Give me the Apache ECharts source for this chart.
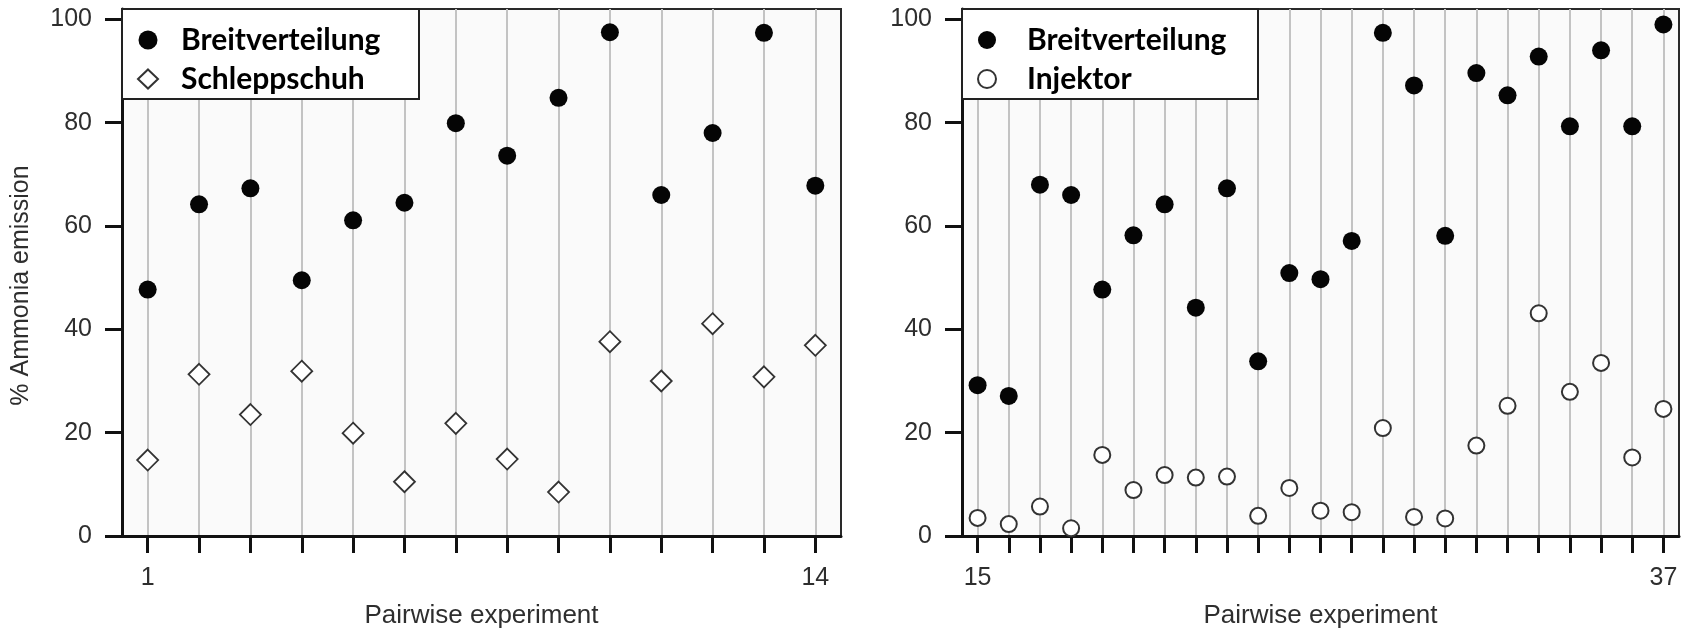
<!DOCTYPE html>
<html><head><meta charset="utf-8">
<script src="https://cdn.jsdelivr.net/npm/echarts@6/dist/echarts.min.js"></script>
<style>html,body{margin:0;padding:0;background:#fff}#c{width:1682px;height:634px}</style>
</head><body><div id="c"></div>
<script>
// ---- data ----
const leftExperiments = [1,2,3,4,5,6,7,8,9,10,11,12,13,14];
const leftBreitverteilung = [47.7, 64.2, 67.3, 49.5, 61.1, 64.5, 79.9, 73.6, 84.8, 97.5, 66.0, 78.0, 97.4, 67.8];
const leftSchleppschuh = [14.7, 31.3, 23.5, 31.9, 19.9, 10.5, 21.8, 14.9, 8.5, 37.6, 30.0, 41.1, 30.8, 36.9];
const rightExperiments = [15,16,17,18,19,20,21,22,23,24,25,26,27,28,29,30,31,32,33,34,35,36,37];
const rightBreitverteilung = [29.2, 27.1, 68.0, 66.0, 47.7, 58.2, 64.2, 44.2, 67.3, 33.8, 50.9, 49.7, 57.1, 97.4, 87.2, 58.1, 89.6, 85.3, 92.8, 79.3, 94.0, 79.3, 99.0];
const rightInjektor = [3.5, 2.3, 5.7, 1.5, 15.7, 8.9, 11.8, 11.3, 11.5, 3.9, 9.3, 4.9, 4.6, 20.9, 3.7, 3.4, 17.5, 25.2, 43.1, 27.9, 33.5, 15.2, 24.6];
const yTickValues = [0, 20, 40, 60, 80, 100];
const leftXLabels = [1, 14];
const rightXLabels = [15, 37];
const yTitle = '% Ammonia emission';
const xTitle = 'Pairwise experiment';

const pair = (xs, ys) => xs.map((x, i) => [x, ys[i]]);
const AX = '#111';
const TXT = '#2e2e2e';
const FONT = 'Liberation Sans';

function xAxisFor(gi, ticks, labels, min, max) {
  return {
    type: 'value', gridIndex: gi, min: min, max: max,
    axisLine: { show: true, onZero: false, lineStyle: { color: AX, width: 3 } },
    axisTick: { show: true, customValues: ticks, length: 17, inside: false, lineStyle: { color: AX, width: 3 } },
    axisLabel: { customValues: labels, margin: 30, color: TXT, fontSize: 25, fontFamily: FONT },
    splitLine: { show: true, lineStyle: { color: '#c3c3c3', width: 2 } },
    name: xTitle, nameLocation: 'middle', nameGap: 67,
    nameTextStyle: { color: TXT, fontSize: 26, fontFamily: FONT }
  };
}
function yAxisFor(gi, withName) {
  const a = {
    type: 'value', gridIndex: gi, min: 0, max: 102,
    axisLine: { show: true, onZero: false, lineStyle: { color: AX, width: 3 } },
    axisTick: { show: true, customValues: yTickValues, length: 17, inside: false, lineStyle: { color: AX, width: 3 } },
    axisLabel: { customValues: yTickValues, margin: 30, color: TXT, fontSize: 25, fontFamily: FONT },
    splitLine: { show: false }
  };
  if (withName) {
    a.name = yTitle; a.nameLocation = 'middle'; a.nameGap = 88;
    a.nameTextStyle = { color: TXT, fontSize: 25, fontFamily: FONT, padding: [0, 26, 0, 0] };
  }
  return a;
}
const gridBase = { show: true, backgroundColor: '#fafafa', borderColor: '#2a2a2a', borderWidth: 2, top: 9, bottom: 98 };

const filled = { symbol: 'circle', symbolSize: 18, itemStyle: { color: '#050505', opacity: 1 } };

const chart = echarts.init(document.getElementById('c'), null, { renderer: 'canvas' });
chart.setOption({
  animation: false,
  backgroundColor: '#ffffff',
  grid: [
    Object.assign({ left: 122, right: 841 }, gridBase),
    Object.assign({ left: 962, right: 3 }, gridBase)
  ],
  xAxis: [
    xAxisFor(0, leftExperiments, leftXLabels, 0.5, 14.5),
    xAxisFor(1, rightExperiments, rightXLabels, 14.5, 37.5)
  ],
  yAxis: [yAxisFor(0, true), yAxisFor(1, false)],
  graphic: [
    { type: 'rect', z: 9, shape: { x: 122, y: 9, width: 297, height: 90 }, style: { fill: '#fff', stroke: '#222', lineWidth: 2 } },
    { type: 'rect', z: 9, shape: { x: 962, y: 9, width: 296, height: 90 }, style: { fill: '#fff', stroke: '#222', lineWidth: 2 } }
  ],
  legend: [
    { z: 10, orient: 'vertical', left: 137, top: 25, padding: 0, itemWidth: 20, itemHeight: 19, itemGap: 9,
      data: ['Breitverteilung', 'Schleppschuh'],
      textStyle: { fontFamily: 'Lato', fontWeight: 'bold', fontSize: 30, color: '#000', lineHeight: 30, padding: [0, 0, 0, 18] } },
    { z: 10, orient: 'vertical', left: 977, top: 25, padding: 0, itemWidth: 20, itemHeight: 18, itemGap: 9,
      data: ['Breitverteilung', 'Injektor'],
      textStyle: { fontFamily: 'Lato', fontWeight: 'bold', fontSize: 30, color: '#000', lineHeight: 30, padding: [0, 0, 0, 25] } }
  ],
  series: [
    Object.assign({ type: 'scatter', name: 'Breitverteilung', xAxisIndex: 0, yAxisIndex: 0, data: pair(leftExperiments, leftBreitverteilung), z: 3 }, filled),
    { type: 'scatter', name: 'Schleppschuh', xAxisIndex: 0, yAxisIndex: 0, data: pair(leftExperiments, leftSchleppschuh), z: 3,
      symbol: 'diamond', symbolSize: 21, itemStyle: { color: '#ffffff', borderColor: '#333', borderWidth: 1.8, opacity: 1 } },
    Object.assign({ type: 'scatter', name: 'Breitverteilung', xAxisIndex: 1, yAxisIndex: 1, data: pair(rightExperiments, rightBreitverteilung), z: 3 }, filled),
    { type: 'scatter', name: 'Injektor', xAxisIndex: 1, yAxisIndex: 1, data: pair(rightExperiments, rightInjektor), z: 3,
      symbol: 'circle', symbolSize: 16, itemStyle: { color: '#ffffff', borderColor: '#333', borderWidth: 2, opacity: 1 } }
  ]
});
</script></body></html>
